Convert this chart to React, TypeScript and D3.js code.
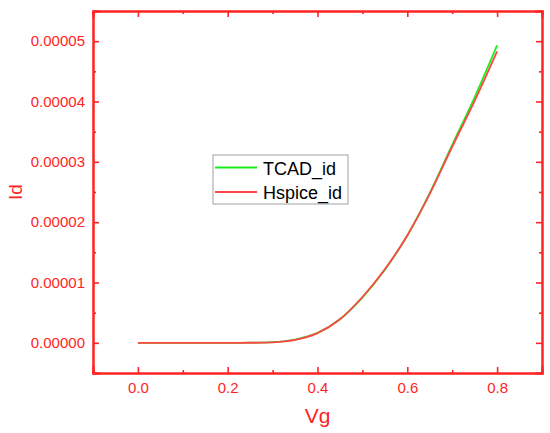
import React, { useEffect, useRef } from "react";
import * as d3 from "d3";

// Vg sweep and drain currents
const vg = [0, 0.05, 0.1, 0.15, 0.2, 0.25, 0.3, 0.35, 0.4, 0.45, 0.5, 0.55, 0.6, 0.65, 0.7, 0.75, 0.8];
const tcadId = [0, 0, 0, 0, 0, 0.002e-5, 0.012e-5, 0.055e-5, 0.165e-5, 0.39e-5, 0.75e-5, 1.21e-5, 1.78e-5, 2.48e-5, 3.28e-5, 4.07e-5, 4.93e-5];
const hspiceId = [0, 0, 0, 0, 0, 0.001e-5, 0.008e-5, 0.048e-5, 0.16e-5, 0.39e-5, 0.76e-5, 1.22e-5, 1.78e-5, 2.47e-5, 3.25e-5, 4.01e-5, 4.83e-5];

const xMajor = [0, 0.2, 0.4, 0.6, 0.8];
const xMinor = [0.1, 0.3, 0.5, 0.7];
const yMajor = [0, 1e-5, 2e-5, 3e-5, 4e-5, 5e-5];
const yMinor = [0.5e-5, 1.5e-5, 2.5e-5, 3.5e-5, 4.5e-5];

const seriesNames = ["TCAD_id", "Hspice_id"];

const AXIS = "#ff2424";
const GREEN = "#1aee1a";
const RED = "#ff4646";
const FONT = "Arial, 'Liberation Sans', sans-serif";

const App: React.FC = () => {
  const ref = useRef<SVGSVGElement | null>(null);

  useEffect(() => {
    const width = 550;
    const height = 433;
    const margin = { top: 11, right: 8, bottom: 60, left: 93 };
    const w = width - margin.left - margin.right;
    const h = height - margin.top - margin.bottom;

    const root = d3.select(ref.current);
    root.selectAll("*").remove();
    root.attr("width", width).attr("height", height);

    const svg = root.append("g").attr("transform", `translate(${margin.left},${margin.top})`);

    const x = d3.scaleLinear().domain([-0.1, 0.9]).range([0, w]);
    const y = d3.scaleLinear().domain([-0.5e-5, 5.5e-5]).range([h, 0]);

    const styleAxis = (g: d3.Selection<SVGGElement, unknown, null, undefined>) => {
      g.selectAll(".domain").attr("stroke", AXIS).attr("stroke-width", 2);
      g.selectAll(".tick line").attr("stroke", AXIS).attr("stroke-width", 1.6);
      g.selectAll("text").attr("fill", AXIS).style("font-family", FONT).style("font-size", "15px");
    };

    // minor ticks first (no labels)
    const minor = [
      { axis: d3.axisBottom(x).tickValues(xMinor), t: `translate(0,${h})` },
      { axis: d3.axisTop(x).tickValues(xMinor), t: "" },
      { axis: d3.axisLeft(y).tickValues(yMinor), t: "" },
      { axis: d3.axisRight(y).tickValues(yMinor), t: `translate(${w},0)` },
    ];
    minor.forEach(({ axis, t }) => {
      const g = svg.append("g").attr("transform", t).call(axis.tickSize(-3).tickFormat(() => "") as any);
      styleAxis(g as any);
    });

    const bottom = svg
      .append("g")
      .attr("transform", `translate(0,${h})`)
      .call(d3.axisBottom(x).tickValues(xMajor).tickSize(-6).tickPadding(9).tickFormat(d3.format(".1f")) as any);
    styleAxis(bottom as any);

    const left = svg
      .append("g")
      .call(d3.axisLeft(y).tickValues(yMajor).tickSize(-6).tickPadding(8).tickFormat(d3.format(".5f")) as any);
    styleAxis(left as any);

    const top = svg.append("g").call(d3.axisTop(x).tickValues(xMajor).tickSize(-6).tickFormat(() => "") as any);
    styleAxis(top as any);

    const right = svg
      .append("g")
      .attr("transform", `translate(${w},0)`)
      .call(d3.axisRight(y).tickValues(yMajor).tickSize(-6).tickFormat(() => "") as any);
    styleAxis(right as any);

    svg.selectAll(".domain").attr("stroke-linecap", "square");

    const line = d3
      .line<number>()
      .x((_d, i) => x(vg[i]))
      .y((d) => y(d))
      .curve(d3.curveMonotoneX);

    svg.append("path").datum(tcadId).attr("fill", "none").attr("stroke", GREEN).attr("stroke-width", 1.8).attr("d", line);
    svg.append("path").datum(hspiceId).attr("fill", "none").attr("stroke", RED).attr("stroke-width", 1.8).attr("d", line);

    // axis titles
    root
      .append("text")
      .attr("x", margin.left + w / 2)
      .attr("y", 423)
      .attr("text-anchor", "middle")
      .attr("fill", AXIS)
      .style("font-family", FONT)
      .style("font-size", "21px")
      .text("Vg");

    root
      .append("text")
      .attr("transform", `translate(22,${margin.top + h / 2}) rotate(-90)`)
      .attr("text-anchor", "middle")
      .attr("fill", AXIS)
      .style("font-family", FONT)
      .style("font-size", "19px")
      .text("Id");

    // legend
    const legend = root.append("g").attr("transform", "translate(213,155)");
    legend.append("rect").attr("width", 135).attr("height", 49).attr("fill", "white").attr("stroke", "#a0a0a0").attr("stroke-width", 1);
    [GREEN, RED].forEach((c, i) => {
      const yy = 12.5 + i * 24.5;
      legend.append("line").attr("x1", 2).attr("x2", 44).attr("y1", yy).attr("y2", yy).attr("stroke", c).attr("stroke-width", 1.8);
      legend
        .append("text")
        .attr("x", 50)
        .attr("y", yy + 7)
        .attr("fill", "#000")
        .style("font-family", FONT)
        .style("font-size", "18px")
        .text(seriesNames[i]);
    });
  }, []);

  return (
    <div style={{ position: "fixed", left: 0, top: 0, width: 550, height: 433, background: "white" }}>
      <svg ref={ref} style={{ display: "block" }} />
    </div>
  );
};

export default App;
